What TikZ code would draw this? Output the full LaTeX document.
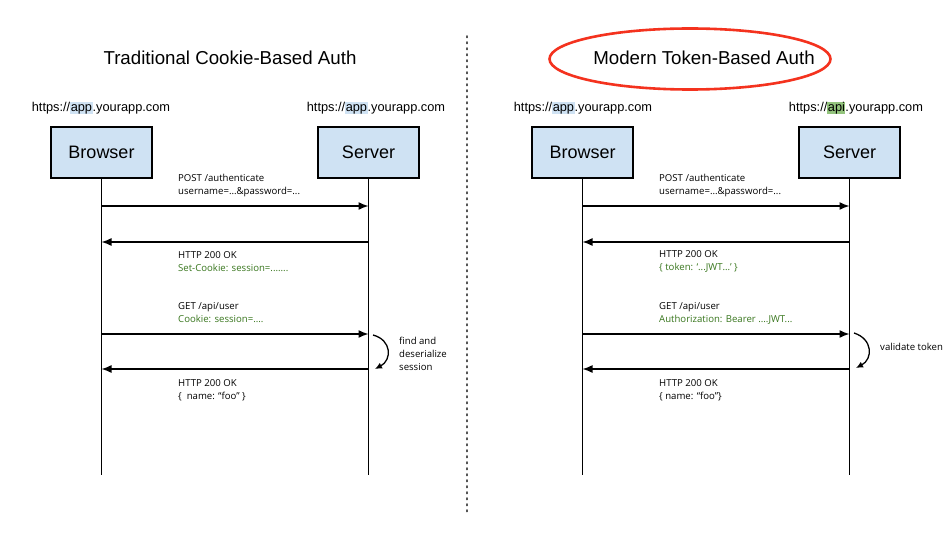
\documentclass[tikz,border=0pt]{standalone}
\usepackage{fontspec}
\setmainfont{Liberation Sans}
\newfontfamily\labelfont{Open Sans}
\usetikzlibrary{arrows.meta,shapes.geometric}
\definecolor{boxblue}{HTML}{CFE2F3}
\definecolor{msggreen}{HTML}{38761D}
\definecolor{apigreen}{HTML}{93C47D}
\definecolor{ringred}{HTML}{F4321E}
\definecolor{divgray}{HTML}{555555}
% highlighted sub-domain part of a URL
\newcommand{\hlpart}[2]{{\setlength{\fboxsep}{0.5pt}\colorbox{#1}{\vphantom{Apy}#2}}}
\begin{document}
\begin{tikzpicture}[x=1pt,y=-1pt,
  actor/.style={draw=black, line width=1.3pt, fill=boxblue, minimum width=101pt,
    minimum height=51pt, inner sep=0pt, font=\fontsize{18}{20}\selectfont},
  url/.style={inner sep=0pt, font=\fontsize{12.8}{14}\selectfont},
  heading/.style={inner sep=0pt, font=\fontsize{18.7}{21}\selectfont},
  msg/.style={inner sep=0pt, anchor=west, align=left,
    font=\labelfont\fontsize{9.6}{13}\selectfont},
  life/.style={line width=1.3pt},
  call/.style={line width=1.4pt, -{Latex[length=10pt,width=8pt]}},
  hop/.style={line width=1.3pt, -{Latex[length=7pt,width=6.5pt]}},
  divider/.style={line width=1.6pt, divgray, dash pattern=on 1.6pt off 4.4pt, line cap=round}
]
\fill[white] (0,0) rectangle (950,540);
\useasboundingbox (0,0) rectangle (950,540);

% column divider
\coordinate (dtop) at (467,36);
\coordinate (dbot) at (467,515);
\draw[divider] (dtop) -- (dbot);

% ---------- traditional cookie-based auth ----------
\node[heading] (t1) at (230,58) {Traditional Cookie-Based Auth};
\node[url] (u1) at (101,108) {https://\hlpart{boxblue}{app}.yourapp.com};
\node[url] (u2) at (376,108) {https://\hlpart{boxblue}{app}.yourapp.com};
\node[actor] (b1) at (101.5,152.5) {Browser};
\node[actor] (s1) at (368.5,152.5) {Server};
\coordinate (b1e) at (101.5,475);
\coordinate (s1e) at (368.5,475);
\draw[life] (b1.south) -- (b1e);
\draw[life] (s1.south) -- (s1e);

\coordinate (b1a) at (101.5,206); \coordinate (s1a) at (368.5,206);
\coordinate (b1b) at (101.5,242); \coordinate (s1b) at (368.5,242);
\coordinate (b1c) at (101.5,334); \coordinate (s1c) at (368.5,334);
\coordinate (b1d) at (101.5,369); \coordinate (s1d) at (368.5,369);
\draw[call] (b1a) -- (s1a);
\draw[call] (s1b) -- (b1b);
\draw[call] (b1c) -- (s1c);
\draw[call] (s1d) -- (b1d);

\node[msg] (m1) at (178,185.5) {POST /authenticate\\username=...\&password=...};
\node[msg] (m2) at (178,261.5) {HTTP 200 OK\\\textcolor{msggreen}{Set-Cookie: session=.......}};
\node[msg] (m3) at (178,313) {GET /api/user\\\textcolor{msggreen}{Cookie: session=....}};
\node[msg] (m4) at (178,390) {HTTP 200 OK\\\{ \ name: “foo” \}};

\coordinate (h1a) at (373,335);
\coordinate (h1b) at (375,369);
\draw[hop] (h1a) .. controls (392,340) and (392,360) .. (h1b);
\node[msg] (n1) at (399,354) {find and\\deserialize\\session};

% ---------- modern token-based auth ----------
\node[ellipse, draw=ringred, line width=2.6pt, minimum width=281pt,
  minimum height=61pt, inner sep=0pt] (ring) at (690,59) {};
\node[heading] (t2) at (704,58) {Modern Token-Based Auth};
\node[url] (u3) at (583,108) {https://\hlpart{boxblue}{app}.yourapp.com};
\node[url] (u4) at (856,108) {https://\hlpart{apigreen}{api}.yourapp.com};
\node[actor] (b2) at (582.5,152.5) {Browser};
\node[actor] (s2) at (849.5,152.5) {Server};
\coordinate (b2e) at (582.5,475);
\coordinate (s2e) at (849.5,475);
\draw[life] (b2.south) -- (b2e);
\draw[life] (s2.south) -- (s2e);

\coordinate (b2a) at (582.5,206); \coordinate (s2a) at (849.5,206);
\coordinate (b2b) at (582.5,242); \coordinate (s2b) at (849.5,242);
\coordinate (b2c) at (582.5,334); \coordinate (s2c) at (849.5,334);
\coordinate (b2d) at (582.5,369); \coordinate (s2d) at (849.5,369);
\draw[call] (b2a) -- (s2a);
\draw[call] (s2b) -- (b2b);
\draw[call] (b2c) -- (s2c);
\draw[call] (s2d) -- (b2d);

\node[msg] (m5) at (659,185.5) {POST /authenticate\\username=...\&password=...};
\node[msg] (m6) at (659,261.5) {HTTP 200 OK\\\textcolor{msggreen}{\{ token: ‘...JWT…’ \}}};
\node[msg] (m7) at (659,313) {GET /api/user\\\textcolor{msggreen}{Authorization: Bearer ....JWT...}};
\node[msg] (m8) at (659,390) {HTTP 200 OK\\\{ name: “foo”\}};

\coordinate (h2a) at (854,333);
\coordinate (h2b) at (856,368);
\draw[hop] (h2a) .. controls (873,339) and (873,359) .. (h2b);
\node[msg] (n2) at (880,347) {validate token};
\end{tikzpicture}
\end{document}
